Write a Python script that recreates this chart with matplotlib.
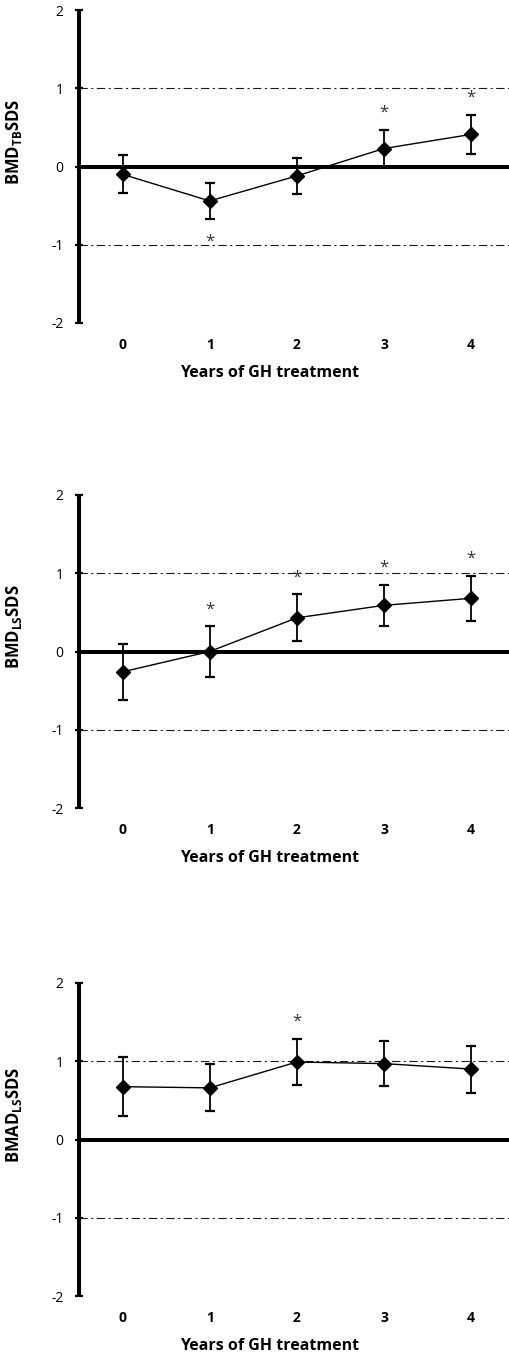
import matplotlib
matplotlib.use('Agg')
import matplotlib.pyplot as plt

plt.rcParams['font.family'] = ['Open Sans', 'DejaVu Sans']
plt.rcParams['mathtext.fontset'] = 'custom'
plt.rcParams['mathtext.rm'] = 'Open Sans'
plt.rcParams['mathtext.bf'] = 'Open Sans:bold'
plt.rcParams['lines.scale_dashes'] = False

years = [0, 1, 2, 3, 4]

# mean SDS and SD per year of treatment
bmd_tb = [-0.10, -0.44, -0.12, 0.23, 0.41]
bmd_tb_sd = [0.245, 0.235, 0.235, 0.235, 0.25]
bmd_tb_sig = ['', 'down', '', 'up', 'up']

bmd_ls = [-0.26, 0.00, 0.43, 0.59, 0.68]
bmd_ls_sd = [0.36, 0.32, 0.30, 0.265, 0.285]
bmd_ls_sig = ['', 'up', 'up', 'up', 'up']

bmad_ls = [0.675, 0.66, 0.99, 0.97, 0.90]
bmad_ls_sd = [0.375, 0.30, 0.29, 0.285, 0.30]
bmad_ls_sig = ['', '', 'up', '', '']

panels = [
    (bmd_tb, bmd_tb_sd, bmd_tb_sig, r'BMD$_{\mathbf{TB}}$SDS'),
    (bmd_ls, bmd_ls_sd, bmd_ls_sig, r'BMD$_{\mathbf{LS}}$SDS'),
    (bmad_ls, bmad_ls_sd, bmad_ls_sig, r'BMAD$_{\mathbf{LS}}$SDS'),
]

W, H = 509, 1358
fig = plt.figure(figsize=(W / 100, H / 100), dpi=100)

# axes boxes in pixels: left, top of y=2, bottom of y=-2
boxes = [(79, 10, 323), (79, 495, 808), (79, 983, 1296)]

for (vals, sds, sig, ylab), (left, top, bottom) in zip(panels, boxes):
    ax = fig.add_axes([left / W, 1 - bottom / H, 1 - left / W, (bottom - top) / H])
    ax.set_xlim(-0.5, 4.435)
    ax.set_ylim(-2, 2)

    ax.axhline(0, color='black', lw=2.9, zorder=1)
    for lvl in (1, -1):
        ax.axhline(lvl, color='#1a1a1a', lw=0.8, dashes=(6, 2.5, 1.5, 2.5), zorder=1)

    ax.errorbar(years, vals, yerr=sds, fmt='-', color='black', lw=1.0,
                elinewidth=1.3, capsize=3.6, capthick=1.6, zorder=3)
    ax.plot(years, vals, 'D', color='black', ms=7, zorder=4)

    for x, v, sd, s in zip(years, vals, sds, sig):
        if s == 'up':
            ax.text(x, v + sd + 0.22, '*', ha='center', va='center',
                    fontsize=12, color='#333333')
        elif s == 'down':
            ax.text(x, v - sd - 0.28, '*', ha='center', va='center',
                    fontsize=12, color='#333333')

    for side in ('top', 'right', 'bottom'):
        ax.spines[side].set_visible(False)
    ax.spines['left'].set_linewidth(2.9)
    ax.spines['left'].set_capstyle('butt')

    ax.set_yticks([-2, -1, 0, 1, 2])
    ax.set_yticklabels(['-2', '-1', '0', '1', '2'])
    ax.tick_params(axis='y', direction='inout', length=6, width=1.6, pad=8, labelsize=10)
    ax.set_xticks(years)
    ax.set_xticklabels([str(y) for y in years], fontweight='bold')
    ax.tick_params(axis='x', length=0, pad=11, labelsize=10)

    ax.set_ylabel(ylab, fontweight='bold', fontsize=12)
    ax.yaxis.set_label_coords(-0.128, 0.58)
    ax.set_xlabel('Years of GH treatment', fontweight='bold', fontsize=11.5)
    ax.xaxis.set_label_coords(0.444, -0.135)

fig.savefig('out.png', dpi=100)
